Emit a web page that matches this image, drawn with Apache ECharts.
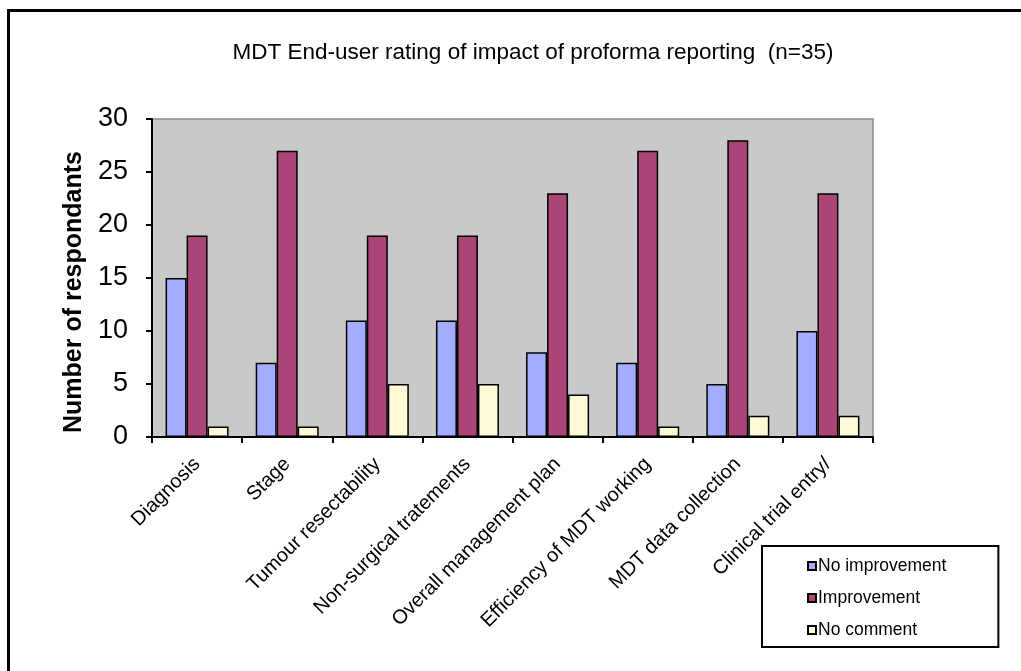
<!DOCTYPE html>
<html>
<head>
<meta charset="utf-8">
<script src="https://cdn.jsdelivr.net/npm/echarts@6/dist/echarts.min.js"></script>
<style>
  html, body { margin: 0; padding: 0; background: #fff; }
  #frame { position: absolute; left: 7px; top: 9px; width: 1014px; height: 662px;
           border-left: 3px solid #000; border-top: 3px solid #000; }
  #chart { position: absolute; left: 0; top: 0; width: 1021px; height: 671px; }
</style>
</head>
<body>
<div id="frame"></div>
<div id="chart"></div>
<script>
// Categories along the x axis
const categories = [
  "Diagnosis",
  "Stage",
  "Tumour resectability",
  "Non-surgical tratements",
  "Overall management plan",
  "Efficiency of MDT working",
  "MDT data collection",
  "Clinical trial entry/"
];

// Respondent counts per rating
const noImprovement = [15, 7, 11, 11, 8, 7, 5, 10];
const improvement   = [19, 27, 19, 19, 23, 27, 28, 23];
const noComment     = [1, 1, 5, 5, 4, 1, 2, 2];

const yTicks = { min: 0, max: 30, interval: 5 };

const font = "Arial, 'Liberation Sans', sans-serif";

const chart = echarts.init(document.getElementById("chart"), null, { renderer: "canvas" });

const barStyle = (color) => ({ color, borderColor: "#000", borderWidth: 1.5 });

chart.setOption({
  animation: false,
  backgroundColor: "transparent",
  title: {
    text: "MDT End-user rating of impact of proforma reporting  (n=35)",
    left: 528,
    textAlign: "center",
    top: 36,
    textStyle: { fontFamily: font, fontSize: 22.5, fontWeight: "normal", color: "#000" }
  },
  grid: {
    left: 152, right: 148, top: 119, bottom: 234,
    show: true, backgroundColor: "#c9c9c9", borderColor: "#8c8c8c", borderWidth: 1.5
  },
  legend: {
    orient: "vertical",
    left: 762, top: 546,
    padding: [11, 52, 8, 45],
    itemGap: 14,
    itemWidth: 8, itemHeight: 8,
    borderColor: "#000", borderWidth: 2,
    backgroundColor: "#fff",
    textStyle: { fontFamily: font, fontSize: 17.5, color: "#000", padding: [0, 0, 0, -3] },
    data: [
      { name: "No improvement", icon: "rect" },
      { name: "Improvement", icon: "rect" },
      { name: "No comment", icon: "rect" }
    ]
  },
  xAxis: {
    type: "category",
    data: categories,
    axisLine: { lineStyle: { color: "#000", width: 2 } },
    axisTick: { show: true, length: 6, lineStyle: { color: "#000", width: 2 } },
    axisLabel: { rotate: 45, margin: 24, fontFamily: font, fontSize: 20, color: "#000", interval: 0 }
  },
  yAxis: {
    type: "value",
    min: yTicks.min, max: yTicks.max, interval: yTicks.interval,
    name: "Number of respondants",
    nameLocation: "middle",
    nameGap: 56,
    nameTextStyle: { fontFamily: font, fontSize: 25, fontWeight: "bold", color: "#000", padding: [0, 28, 0, 0] },
    axisLine: { show: true, lineStyle: { color: "#000", width: 2 } },
    axisTick: { show: true, length: 6, lineStyle: { color: "#000", width: 2 } },
    splitLine: { show: false },
    axisLabel: { margin: 24, fontFamily: font, fontSize: 27, color: "#000" }
  },
  series: [
    { name: "No improvement", type: "bar", data: noImprovement, barWidth: 21, barGap: "0%", itemStyle: barStyle("#a4acff") },
    { name: "Improvement", type: "bar", data: improvement, barWidth: 21, barGap: "0%", itemStyle: barStyle("#ab4577") },
    { name: "No comment", type: "bar", data: noComment, barWidth: 21, barGap: "0%", itemStyle: barStyle("#fffad6") }
  ]
});
</script>
</body>
</html>
